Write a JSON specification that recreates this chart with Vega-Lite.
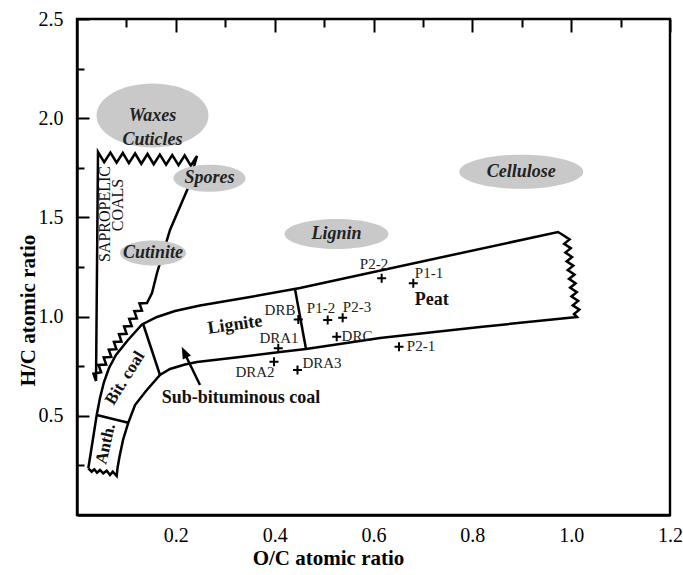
{
  "$schema": "https://vega.github.io/schema/vega-lite/v6.json",
  "width": 593,
  "height": 496,
  "autosize": {"type": "none"},
  "padding": {"left": 77, "top": 19, "right": 13, "bottom": 60},
  "background": "white",
  "config": {"view": {"stroke": "black", "strokeWidth": 2.4}, "font": "Liberation Serif"},
  "datasets": {
    "outlines": [
      {"seg": "band", "o": 0, "x": 0.0229, "y": 0.2354},
      {"seg": "band", "o": 1, "x": 0.0314, "y": 0.3695},
      {"seg": "band", "o": 2, "x": 0.0399, "y": 0.5040},
      {"seg": "band", "o": 3, "x": 0.0465, "y": 0.5897},
      {"seg": "band", "o": 4, "x": 0.0546, "y": 0.6704},
      {"seg": "band", "o": 5, "x": 0.0648, "y": 0.7409},
      {"seg": "band", "o": 6, "x": 0.0789, "y": 0.8065},
      {"seg": "band", "o": 7, "x": 0.1032, "y": 0.8821},
      {"seg": "band", "o": 8, "x": 0.1315, "y": 0.9602},
      {"seg": "band", "o": 9, "x": 0.1619, "y": 0.9980},
      {"seg": "band", "o": 10, "x": 0.1983, "y": 1.0282},
      {"seg": "band", "o": 11, "x": 0.2489, "y": 1.0560},
      {"seg": "band", "o": 12, "x": 0.3501, "y": 1.0988},
      {"seg": "band", "o": 13, "x": 0.4512, "y": 1.1442},
      {"seg": "band", "o": 14, "x": 0.9733, "y": 1.4264},
      {"seg": "band", "o": 15, "x": 0.9834, "y": 1.4113},
      {"seg": "band", "o": 16, "x": 0.9968, "y": 1.3891},
      {"seg": "band", "o": 17, "x": 0.9858, "y": 1.3669},
      {"seg": "band", "o": 18, "x": 0.9992, "y": 1.3448},
      {"seg": "band", "o": 19, "x": 0.9883, "y": 1.3226},
      {"seg": "band", "o": 20, "x": 1.0018, "y": 1.3004},
      {"seg": "band", "o": 21, "x": 0.9909, "y": 1.2787},
      {"seg": "band", "o": 22, "x": 1.0043, "y": 1.2566},
      {"seg": "band", "o": 23, "x": 0.9931, "y": 1.2344},
      {"seg": "band", "o": 24, "x": 1.0067, "y": 1.2122},
      {"seg": "band", "o": 25, "x": 0.9956, "y": 1.1900},
      {"seg": "band", "o": 26, "x": 1.0089, "y": 1.1678},
      {"seg": "band", "o": 27, "x": 0.9980, "y": 1.1457},
      {"seg": "band", "o": 28, "x": 1.0114, "y": 1.1235},
      {"seg": "band", "o": 29, "x": 1.0006, "y": 1.1013},
      {"seg": "band", "o": 30, "x": 1.0142, "y": 1.0791},
      {"seg": "band", "o": 31, "x": 1.0032, "y": 1.0570},
      {"seg": "band", "o": 32, "x": 1.0166, "y": 1.0348},
      {"seg": "band", "o": 33, "x": 1.0057, "y": 1.0131},
      {"seg": "band", "o": 34, "x": 1.0117, "y": 0.9980},
      {"seg": "band", "o": 35, "x": 0.8155, "y": 0.9476},
      {"seg": "band", "o": 36, "x": 0.6131, "y": 0.8921},
      {"seg": "band", "o": 37, "x": 0.4634, "y": 0.8367},
      {"seg": "band", "o": 38, "x": 0.4108, "y": 0.8216},
      {"seg": "band", "o": 39, "x": 0.3298, "y": 0.7964},
      {"seg": "band", "o": 40, "x": 0.2428, "y": 0.7712},
      {"seg": "band", "o": 41, "x": 0.2185, "y": 0.7586},
      {"seg": "band", "o": 42, "x": 0.1882, "y": 0.7359},
      {"seg": "band", "o": 43, "x": 0.1679, "y": 0.7056},
      {"seg": "band", "o": 44, "x": 0.1396, "y": 0.6250},
      {"seg": "band", "o": 45, "x": 0.1174, "y": 0.5544},
      {"seg": "band", "o": 46, "x": 0.1038, "y": 0.4652},
      {"seg": "band", "o": 47, "x": 0.0931, "y": 0.3780},
      {"seg": "band", "o": 48, "x": 0.0860, "y": 0.2938},
      {"seg": "band", "o": 49, "x": 0.0820, "y": 0.2369},
      {"seg": "band", "o": 50, "x": 0.0803, "y": 0.1966},
      {"seg": "band", "o": 51, "x": 0.0722, "y": 0.2182},
      {"seg": "band", "o": 52, "x": 0.0668, "y": 0.2016},
      {"seg": "band", "o": 53, "x": 0.0601, "y": 0.2233},
      {"seg": "band", "o": 54, "x": 0.0532, "y": 0.2102},
      {"seg": "band", "o": 55, "x": 0.0465, "y": 0.2268},
      {"seg": "band", "o": 56, "x": 0.0405, "y": 0.2132},
      {"seg": "band", "o": 57, "x": 0.0350, "y": 0.2303},
      {"seg": "band", "o": 58, "x": 0.0297, "y": 0.2182},
      {"seg": "band", "o": 59, "x": 0.0229, "y": 0.2354},
      {"seg": "sap", "o": 0, "x": 0.0385, "y": 0.675},
      {"seg": "sap", "o": 1, "x": 0.0425, "y": 1.8296},
      {"seg": "sap", "o": 2, "x": 0.0550, "y": 1.7780},
      {"seg": "sap", "o": 3, "x": 0.0676, "y": 1.8271},
      {"seg": "sap", "o": 4, "x": 0.0801, "y": 1.7755},
      {"seg": "sap", "o": 5, "x": 0.0927, "y": 1.8246},
      {"seg": "sap", "o": 6, "x": 0.1050, "y": 1.7730},
      {"seg": "sap", "o": 7, "x": 0.1176, "y": 1.8221},
      {"seg": "sap", "o": 8, "x": 0.1301, "y": 1.7704},
      {"seg": "sap", "o": 9, "x": 0.1427, "y": 1.8196},
      {"seg": "sap", "o": 10, "x": 0.1552, "y": 1.7679},
      {"seg": "sap", "o": 11, "x": 0.1677, "y": 1.8170},
      {"seg": "sap", "o": 12, "x": 0.1803, "y": 1.7654},
      {"seg": "sap", "o": 13, "x": 0.1928, "y": 1.8145},
      {"seg": "sap", "o": 14, "x": 0.2054, "y": 1.7629},
      {"seg": "sap", "o": 15, "x": 0.2179, "y": 1.8120},
      {"seg": "sap", "o": 16, "x": 0.2303, "y": 1.7604},
      {"seg": "sap", "o": 17, "x": 0.2428, "y": 1.8095},
      {"seg": "sap", "o": 18, "x": 0.2246, "y": 1.6482},
      {"seg": "sap", "o": 19, "x": 0.1882, "y": 1.4365},
      {"seg": "sap", "o": 20, "x": 0.1619, "y": 1.2198},
      {"seg": "sap", "o": 21, "x": 0.1518, "y": 1.1190},
      {"seg": "sap", "o": 22, "x": 0.1437, "y": 1.0786},
      {"seg": "sap", "o": 23, "x": 0.1416, "y": 1.0685},
      {"seg": "sap", "o": 24, "x": 0.1264, "y": 1.066},
      {"seg": "sap", "o": 25, "x": 0.1315, "y": 1.030},
      {"seg": "sap", "o": 26, "x": 0.1160, "y": 1.027},
      {"seg": "sap", "o": 27, "x": 0.1210, "y": 0.991},
      {"seg": "sap", "o": 28, "x": 0.1057, "y": 0.988},
      {"seg": "sap", "o": 29, "x": 0.1107, "y": 0.952},
      {"seg": "sap", "o": 30, "x": 0.0953, "y": 0.950},
      {"seg": "sap", "o": 31, "x": 0.1004, "y": 0.913},
      {"seg": "sap", "o": 32, "x": 0.0850, "y": 0.911},
      {"seg": "sap", "o": 33, "x": 0.0900, "y": 0.874},
      {"seg": "sap", "o": 34, "x": 0.0747, "y": 0.872},
      {"seg": "sap", "o": 35, "x": 0.0797, "y": 0.836},
      {"seg": "sap", "o": 36, "x": 0.0643, "y": 0.833},
      {"seg": "sap", "o": 37, "x": 0.0694, "y": 0.797},
      {"seg": "sap", "o": 38, "x": 0.0540, "y": 0.794},
      {"seg": "sap", "o": 39, "x": 0.0590, "y": 0.758},
      {"seg": "sap", "o": 40, "x": 0.0437, "y": 0.756},
      {"seg": "sap", "o": 41, "x": 0.0488, "y": 0.719},
      {"seg": "sap", "o": 42, "x": 0.0334, "y": 0.712},
      {"seg": "sap", "o": 43, "x": 0.0385, "y": 0.675},
      {"seg": "anth_bit", "o": 0, "x": 0.0399, "y": 0.5040},
      {"seg": "anth_bit", "o": 1, "x": 0.1038, "y": 0.4652},
      {"seg": "bit_lig", "o": 0, "x": 0.1335, "y": 0.9652},
      {"seg": "bit_lig", "o": 1, "x": 0.1679, "y": 0.7056},
      {"seg": "lig_peat", "o": 0, "x": 0.4411, "y": 1.1391},
      {"seg": "lig_peat", "o": 1, "x": 0.4634, "y": 0.8367},
      {"seg": "arrow", "o": 0, "x": 0.2489, "y": 0.6552},
      {"seg": "arrow", "o": 1, "x": 0.2165, "y": 0.8216}
    ],
    "ellipses": [
      {"name": "Waxes", "label": "Waxes\nCuticles", "x": 0.1528, "y": 2.0136},
      {"name": "Spores", "label": "Spores", "x": 0.2681, "y": 1.697},
      {"name": "Cutinite", "label": "Cutinite", "x": 0.1538, "y": 1.3206},
      {"name": "Lignin", "label": "Lignin", "x": 0.5251, "y": 1.416},
      {"name": "Cellulose", "label": "Cellulose", "x": 0.8990, "y": 1.730}
    ],
    "samples": [
      {"name": "P2-2", "x": 0.6165, "y": 1.193},
      {"name": "P1-1", "x": 0.6805, "y": 1.168},
      {"name": "P1-2", "x": 0.5073, "y": 0.983},
      {"name": "P2-3", "x": 0.5376, "y": 0.994},
      {"name": "DRB", "x": 0.4478, "y": 0.986},
      {"name": "DRC", "x": 0.5255, "y": 0.899},
      {"name": "P2-1", "x": 0.6516, "y": 0.848},
      {"name": "DRA3", "x": 0.4462, "y": 0.731},
      {"name": "DRA1", "x": 0.4073, "y": 0.840},
      {"name": "DRA2", "x": 0.3986, "y": 0.773}
    ],
    "samplelabels": [
      {"text": "P2-2", "x": 0.6010, "y": 1.265},
      {"text": "P1-1", "x": 0.7123, "y": 1.220},
      {"text": "P1-2", "x": 0.4937, "y": 1.043},
      {"text": "P2-3", "x": 0.5666, "y": 1.048},
      {"text": "DRB", "x": 0.4108, "y": 1.033},
      {"text": "DRC", "x": 0.5666, "y": 0.902},
      {"text": "P2-1", "x": 0.6961, "y": 0.852},
      {"text": "DRA3", "x": 0.4957, "y": 0.766},
      {"text": "DRA1", "x": 0.4087, "y": 0.892},
      {"text": "DRA2", "x": 0.3602, "y": 0.721}
    ]
  },
  "encoding": {
    "x": {
      "field": "x", "type": "quantitative",
      "scale": {"domain": [0, 1.2], "nice": false, "zero": false},
      "axis": {
        "title": "O/C atomic ratio",
        "values": [0.1, 0.2, 0.3, 0.4, 0.5, 0.6, 0.7, 0.8, 0.9, 1.0, 1.1, 1.2],
        "labelExpr": "round(datum.value*10)%2==0 ? format(datum.value,'.1f') : ''",
        "ticks": false,
        "grid": true, "gridColor": "black", "gridWidth": 2, "gridOpacity": 1,
        "gridDash": {"condition": {"test": "round(datum.value*10)%2==0", "value": [13, 2000]}, "value": [8, 2000]},
        "domainColor": "black", "domainWidth": 2.4,
        "labelOverlap": false, "labelFlush": false,
        "labelFont": "Liberation Serif", "labelFontSize": 20, "labelColor": "black", "labelPadding": 10,
        "titleFont": "Liberation Serif", "titleFontSize": 21, "titleFontWeight": "bold", "titleColor": "black",
        "titleX": 251, "titleY": 43, "titleBaseline": "middle"
      }
    },
    "y": {
      "field": "y", "type": "quantitative",
      "scale": {"domain": [0, 2.5], "nice": false, "zero": false},
      "axis": {
        "title": "H/C atomic ratio",
        "values": [0.25, 0.5, 0.75, 1.0, 1.25, 1.5, 1.75, 2.0, 2.25, 2.5],
        "labelExpr": "round(datum.value*4)%2==0 ? format(datum.value,'.1f') : ''",
        "ticks": false,
        "grid": true, "gridColor": "black", "gridWidth": 2, "gridOpacity": 1,
        "gridDash": {"condition": {"test": "round(datum.value*4)%2==0", "value": [12, 2000]}, "value": [7, 2000]},
        "domainColor": "black", "domainWidth": 2.4,
        "labelOverlap": false, "labelFlush": false,
        "labelFont": "Liberation Serif", "labelFontSize": 20, "labelColor": "black", "labelPadding": 14,
        "titleFont": "Liberation Serif", "titleFontSize": 21, "titleFontWeight": "bold", "titleColor": "black",
        "titleX": -49, "titleY": 291, "titleBaseline": "middle"
      }
    }
  },
  "layer": [
    {
      "data": {"name": "outlines"},
      "mark": {"type": "line", "stroke": "black", "strokeWidth": 2.5, "strokeJoin": "miter"},
      "encoding": {"detail": {"field": "seg"}, "order": {"field": "o", "type": "quantitative"}}
    },
    {
      "data": {"name": "ellipses"},
      "mark": {"type": "point", "filled": true, "size": 4, "fill": "#c9c9c9", "opacity": 1, "strokeWidth": 0},
      "encoding": {
        "shape": {
          "field": "name", "type": "nominal", "legend": null,
          "scale": {
            "domain": ["Waxes", "Spores", "Cutinite", "Lignin", "Cellulose"],
            "range": [
              "M -56,0 A 56,32 0 1,0 56,0 A 56,32 0 1,0 -56,0 Z",
              "M -36,0 A 36,13.5 0 1,0 36,0 A 36,13.5 0 1,0 -36,0 Z",
              "M -33,0 A 33,12.5 0 1,0 33,0 A 33,12.5 0 1,0 -33,0 Z",
              "M -52,0 A 52,15 0 1,0 52,0 A 52,15 0 1,0 -52,0 Z",
              "M -62,0 A 62,17 0 1,0 62,0 A 62,17 0 1,0 -62,0 Z"
            ]
          }
        }
      }
    },
    {
      "data": {"name": "ellipses"},
      "mark": {"type": "text", "font": "Liberation Serif", "fontSize": 18, "fontWeight": "bold", "fontStyle": "italic", "fill": "#222222", "lineBreak": "\n", "lineHeight": 24, "align": "center", "baseline": "middle"},
      "encoding": {"text": {"field": "label"}}
    },
    {
      "data": {"values": [{"x": 0.2119, "y": 0.8483}]},
      "mark": {"type": "point", "filled": true, "size": 4, "fill": "black", "opacity": 1, "strokeWidth": 0, "angle": -25.5, "shape": "M 0,0 L -4.5,12 L 4.5,12 Z"}
    },
    {
      "data": {"name": "samples"},
      "mark": {"type": "point", "filled": false, "size": 4, "stroke": "black", "strokeWidth": 2, "opacity": 1, "shape": "M -4.5,0 L 4.5,0 M 0,-4.5 L 0,4.5"}
    },
    {
      "data": {"name": "samplelabels"},
      "mark": {"type": "text", "font": "Liberation Serif", "fontSize": 15, "fill": "#222222", "align": "center", "baseline": "middle"},
      "encoding": {"text": {"field": "text"}}
    },
    {
      "data": {"values": [{"text": "Peat", "x": 0.7180, "y": 1.084}, {"text": "Sub-bituminous coal", "x": 0.3318, "y": 0.590}]},
      "mark": {"type": "text", "font": "Liberation Serif", "fontSize": 18, "fontWeight": "bold", "fill": "#111111", "align": "center", "baseline": "middle"},
      "encoding": {"text": {"field": "text"}}
    },
    {
      "data": {"values": [{"text": "Lignite", "x": 0.3197, "y": 0.958}]},
      "mark": {"type": "text", "font": "Liberation Serif", "fontSize": 18, "fontWeight": "bold", "fill": "#111111", "align": "center", "baseline": "middle", "angle": -8},
      "encoding": {"text": {"field": "text"}}
    },
    {
      "data": {"values": [{"text": "Bit. coal", "x": 0.0971, "y": 0.690}]},
      "mark": {"type": "text", "font": "Liberation Serif", "fontSize": 17, "fontWeight": "bold", "fill": "#111111", "align": "center", "baseline": "middle", "angle": -58},
      "encoding": {"text": {"field": "text"}}
    },
    {
      "data": {"values": [{"text": "Anth.", "x": 0.0581, "y": 0.358}]},
      "mark": {"type": "text", "font": "Liberation Serif", "fontSize": 17, "fontWeight": "bold", "fill": "#111111", "align": "center", "baseline": "middle", "angle": -77},
      "encoding": {"text": {"field": "text"}}
    },
    {
      "data": {"values": [{"text": "SAPROPELIC", "x": 0.0567, "y": 1.517}, {"text": "COALS", "x": 0.083, "y": 1.5625}]},
      "mark": {"type": "text", "font": "Liberation Serif", "fontSize": 16, "fill": "#111111", "align": "center", "baseline": "middle", "angle": -90},
      "encoding": {"text": {"field": "text"}}
    }
  ]
}
